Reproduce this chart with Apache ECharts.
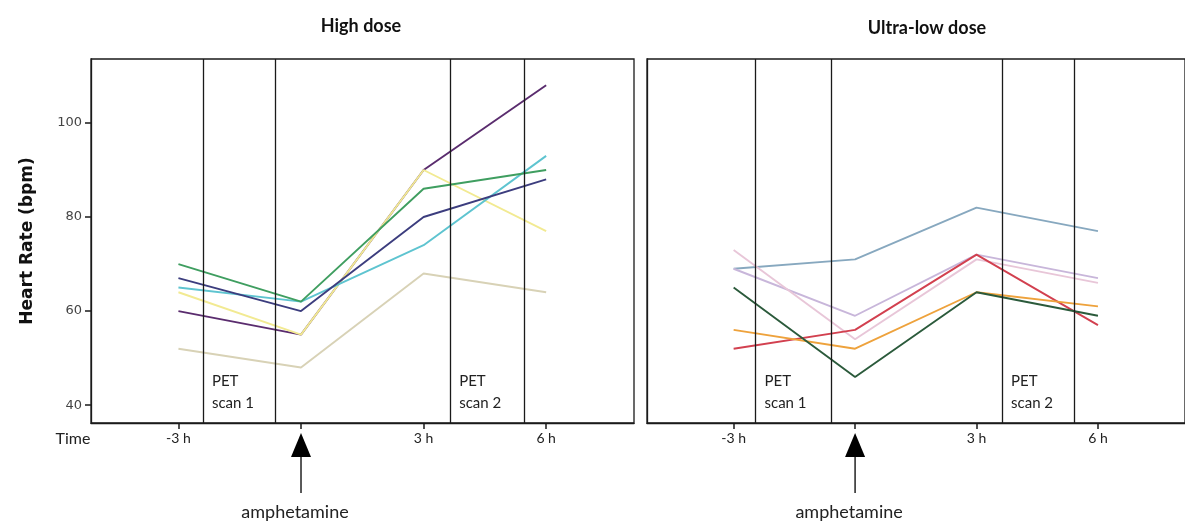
<!DOCTYPE html>
<html>
<head>
<meta charset="utf-8">
<script src="https://cdn.jsdelivr.net/npm/echarts@6/dist/echarts.min.js"></script>
<style>
  html, body { margin: 0; padding: 0; background: #fff; }
  #chart { width: 1185px; height: 527px; }
</style>
</head>
<body>
<div id="chart"></div>
<script>
// time points (hours relative to amphetamine)
var hours = [-3, 0, 3, 6];
var tickLabels = ['-3 h', '', '3 h', '6 h'];
var yTicks = [40, 60, 80, 100];

// PET scan windows (hours)
var petHigh = [[-2.40, -0.63], [3.65, 5.46]];
var petLow = [[-2.46, -0.58], [3.63, 5.42]];
var petLabels = ['PET\nscan 1', 'PET\nscan 2'];

// high dose subjects
var highGreen = [70, 62, 86, 90];
var highNavy = [67, 60, 80, 88];
var highCyan = [65, 62, 74, 93];
var highPurple = [60, 55, 90, 108];
var highYellow = [64, 55, 90, 77];
var highBeige = [52, 48, 68, 64];

// ultra-low dose subjects
var lowSteel = [69, 71, 82, 77];
var lowLavender = [69, 59, 72, 67];
var lowPink = [73, 54, 71, 66];
var lowRed = [52, 56, 72, 57];
var lowOrange = [56, 52, 64, 61];
var lowDkGreen = [65, 46, 64, 59];

var xMin = -5.14, xMax = 8.15;
var yMin = 36.2, yMax = 113.6;
var font = 'Lato, "Open Sans", sans-serif';

function pairs(vals) {
  return hours.map(function (h, i) { return [h, vals[i]]; });
}

function subject(vals, color, idx) {
  return {
    type: 'line',
    xAxisIndex: idx,
    yAxisIndex: idx,
    data: pairs(vals),
    symbol: 'none',
    lineStyle: { color: color, width: 1.9 },
    silent: true,
    z: 3
  };
}

// vertical PET lines + labels, hung on an empty series
function petSeries(wins, idx) {
  var lines = [];
  var areas = [];
  wins.forEach(function (w, k) {
    lines.push({ xAxis: w[0] });
    lines.push({ xAxis: w[1] });
    areas.push([{ xAxis: w[0], name: petLabels[k] }, { xAxis: w[1] }]);
  });
  return {
    type: 'line',
    xAxisIndex: idx,
    yAxisIndex: idx,
    data: [],
    silent: true,
    markLine: {
      symbol: 'none',
      silent: true,
      animation: false,
      label: { show: false },
      lineStyle: { color: '#1a1a1a', width: 1.3, type: 'solid' },
      data: lines
    },
    markArea: {
      silent: true,
      itemStyle: { color: 'rgba(0,0,0,0)' },
      label: {
        show: true,
        position: 'insideBottomLeft',
        distance: 0,
        padding: [0, 0, 9, 9],
        color: '#222',
        fontFamily: font,
        fontSize: 15,
        lineHeight: 22,
        align: 'left'
      },
      data: areas
    }
  };
}

function xAxisFor(idx) {
  return {
    type: 'value',
    gridIndex: idx,
    min: xMin,
    max: xMax,
    splitLine: { show: false },
    axisLine: { show: true, onZero: false, lineStyle: { color: '#1a1a1a', width: 1.3 } },
    axisTick: { show: true, customValues: hours, length: 6, lineStyle: { color: '#1a1a1a', width: 1.5 } },
    axisLabel: {
      customValues: hours,
      margin: 8,
      color: '#222',
      fontFamily: font,
      fontSize: 14,
      formatter: function (v) { return tickLabels[hours.indexOf(v)]; }
    }
  };
}

function yAxisFor(idx) {
  var first = idx === 0;
  return {
    type: 'value',
    gridIndex: idx,
    min: yMin,
    max: yMax,
    splitLine: { show: false },
    name: first ? 'Heart Rate (bpm)' : '',
    nameLocation: 'middle',
    nameGap: 55,
    nameTextStyle: { fontFamily: 'DejaVu Sans, sans-serif', fontWeight: 'bold', fontSize: 17, color: '#111' },
    axisLine: { show: true, onZero: false, lineStyle: { color: '#1a1a1a', width: 1.3 } },
    axisTick: { show: first, customValues: yTicks, length: 6, lineStyle: { color: '#1a1a1a', width: 1.5 } },
    axisLabel: {
      show: first,
      customValues: yTicks,
      margin: 9,
      color: '#444',
      fontFamily: 'DejaVu Sans, sans-serif',
      fontSize: 13
    }
  };
}

var chart = echarts.init(document.getElementById('chart'));

var option = {
  animation: false,
  backgroundColor: '#fff',
  title: [
    { text: 'High dose', left: 356, top: 12, textAlign: 'center',
      textStyle: { fontFamily: font, fontWeight: 'bold', fontSize: 18, color: '#111' } },
    { text: 'Ultra-low dose', left: 922, top: 14, textAlign: 'center',
      textStyle: { fontFamily: font, fontWeight: 'bold', fontSize: 18, color: '#111' } }
  ],
  grid: [
    { left: 91, top: 59, width: 543, height: 364, show: true, borderColor: '#1a1a1a', borderWidth: 1.3 },
    { left: 647, top: 59, width: 543, height: 364, show: true, borderColor: '#1a1a1a', borderWidth: 1.3 }
  ],
  xAxis: [xAxisFor(0), xAxisFor(1)],
  yAxis: [yAxisFor(0), yAxisFor(1)],
  series: [
    petSeries(petHigh, 0),
    subject(highBeige, '#d8d2b6', 0),
    subject(highPurple, '#5a2c6e', 0),
    subject(highYellow, '#f2ea92', 0),
    subject(highCyan, '#5ec4d0', 0),
    subject(highNavy, '#3c3d7e', 0),
    subject(highGreen, '#3f9e60', 0),
    petSeries(petLow, 1),
    subject(lowSteel, '#87a8bf', 1),
    subject(lowLavender, '#c8b6da', 1),
    subject(lowPink, '#e8c6d8', 1),
    subject(lowRed, '#d2404f', 1),
    subject(lowOrange, '#eea23c', 1),
    subject(lowDkGreen, '#2b5a3b', 1)
  ]
};

chart.setOption(option);

// "Time" label and the amphetamine arrows, placed from the axes themselves
var extras = [];
var origin = chart.convertToPixel({ gridIndex: 0 }, [xMin, yMin]);
extras.push({
  type: 'text',
  x: origin[0] - 18,
  y: origin[1] + 16,
  style: { text: 'Time', fontFamily: font, fontSize: 16, fill: '#222', align: 'center', verticalAlign: 'middle' }
});
[0, 1].forEach(function (g) {
  var p = chart.convertToPixel({ gridIndex: g }, [0, yMin]);
  var x = p[0], y = p[1];
  extras.push({
    type: 'polygon',
    shape: { points: [[x, y + 10], [x - 10, y + 34], [x + 10, y + 34]] },
    style: { fill: '#000' }
  });
  extras.push({
    type: 'line',
    shape: { x1: x, y1: y + 34, x2: x, y2: y + 70 },
    style: { stroke: '#000', lineWidth: 1.3 }
  });
  extras.push({
    type: 'text',
    x: x - 6,
    y: y + 89,
    style: { text: 'amphetamine', fontFamily: font, fontSize: 18, fill: '#222', align: 'center', verticalAlign: 'middle' }
  });
});
chart.setOption({ graphic: extras });
</script>
</body>
</html>
